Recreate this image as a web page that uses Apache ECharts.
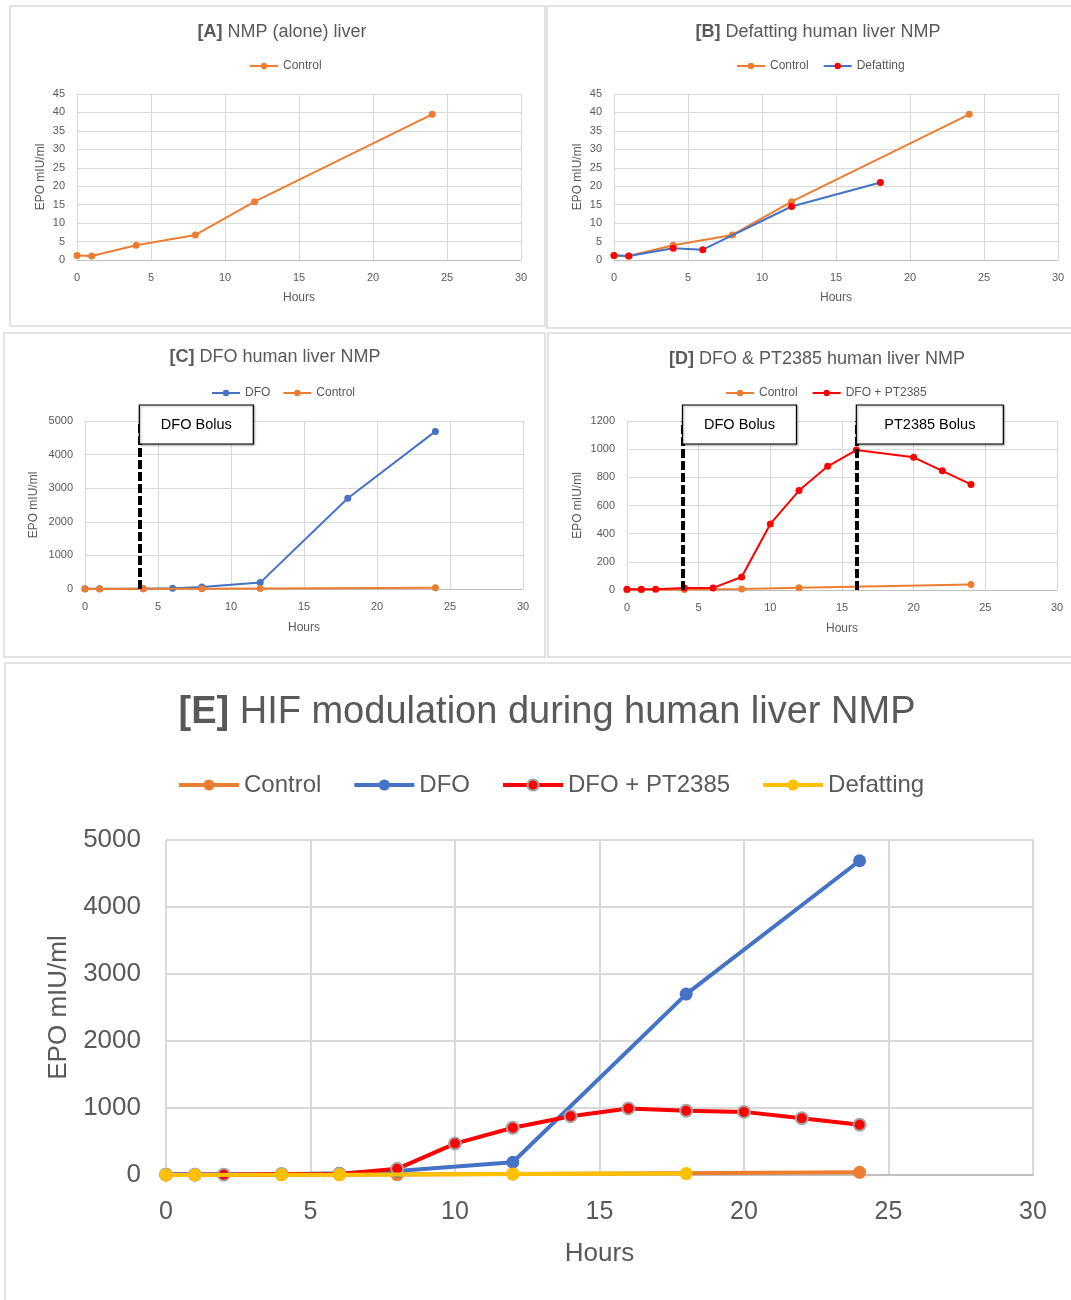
<!DOCTYPE html>
<html><head><meta charset="utf-8">
<script src="https://cdn.jsdelivr.net/npm/echarts@6/dist/echarts.min.js"></script>
<style>html,body{margin:0;padding:0;background:#fff}#c{width:1071px;height:1300px}</style>
</head><body><div id="c"></div>
<script>
// ---------------- data ----------------
const hoursControl = [0, 1, 4, 8, 12, 24];
const epoControl   = [1.2, 1.1, 4.0, 6.8, 15.8, 39.5];

const hoursDefatting = [0, 1, 4, 6, 12, 18];
const epoDefatting   = [1.2, 1.1, 3.2, 2.8, 14.5, 21.0];

const hoursDFO = [0, 1, 4, 6, 8, 12, 18, 24];
const epoDFO   = [10, 10, 10, 25, 60, 190, 2700, 4690];

const hoursDfoPtD = [0, 1, 2, 4, 6, 8, 10, 12, 14, 16, 20, 22, 24];
const epoDfoPtD   = [5, 5, 5, 15, 15, 92, 469, 706, 878, 994, 942, 846, 750];

const hoursDfoPtE = [0, 1, 2, 4, 6, 8, 10, 12, 14, 16, 18, 20, 22, 24];
const epoDfoPtE   = [5, 5, 5, 15, 15, 92, 469, 706, 878, 994, 960, 942, 846, 750];

const xTicks  = [0, 5, 10, 15, 20, 25, 30];
const yTicksAB = [0, 5, 10, 15, 20, 25, 30, 35, 40, 45];
const yTicksC  = [0, 1000, 2000, 3000, 4000, 5000];
const yTicksD  = [0, 200, 400, 600, 800, 1000, 1200];
const yTicksE  = [0, 1000, 2000, 3000, 4000, 5000];

const bolusC = [{label: 'DFO Bolus', hour: 3.72}];
const bolusD = [{label: 'DFO Bolus', hour: 3.87}, {label: 'PT2385 Bolus', hour: 16}];

// ---------------- style ----------------
const FF = "'Liberation Sans', Arial, sans-serif";
const TXT = '#595959';
const GRIDC = '#D9D9D9';
const ORANGE = '#ED7D31', BLUE = '#4472C4', RED = '#FF0000', YELLOW = '#FFC000';

function pairs(xs, ys) { return xs.map((x, i) => [x, ys[i]]); }

const grids = [
  {left: 77,  top: 94,  width: 444, height: 166},
  {left: 614, top: 94,  width: 444, height: 166},
  {left: 85,  top: 421, width: 438, height: 168},
  {left: 627, top: 421, width: 430, height: 169},
  {left: 166, top: 840, width: 867, height: 335}
];

function xAx(gi, fs, nfs, gap, margin) {
  return {
    type: 'value', gridIndex: gi, min: xTicks[0], max: xTicks[xTicks.length - 1],
    interval: xTicks[1] - xTicks[0],
    name: 'Hours', nameLocation: 'middle', nameGap: gap,
    nameTextStyle: {color: TXT, fontSize: nfs, fontFamily: FF},
    axisLine: {show: true, lineStyle: {color: '#BFBFBF', width: gi === 4 ? 2 : 1}},
    axisTick: {show: false},
    axisLabel: {color: TXT, fontSize: fs, fontFamily: FF, margin: margin, formatter: v => String(v)},
    splitLine: {show: true, lineStyle: {color: GRIDC, width: gi === 4 ? 2 : 1}}
  };
}
function yAx(gi, ticks, fs, nfs, gap, margin) {
  return {
    type: 'value', gridIndex: gi, min: ticks[0], max: ticks[ticks.length - 1],
    interval: ticks[1] - ticks[0],
    name: 'EPO mIU/ml', nameLocation: 'middle', nameGap: gap,
    nameTextStyle: {color: TXT, fontSize: nfs, fontFamily: FF},
    axisLine: {show: false}, axisTick: {show: false},
    axisLabel: {color: TXT, fontSize: fs, fontFamily: FF, margin: margin, formatter: v => String(v)},
    splitLine: {show: true, lineStyle: {color: GRIDC, width: gi === 4 ? 2 : 1}}
  };
}

function lineSeries(name, gi, xs, ys, color, mcolor, lw, ss, z, extra) {
  return Object.assign({
    type: 'line', name: name, xAxisIndex: gi, yAxisIndex: gi,
    data: pairs(xs, ys), symbol: 'circle', symbolSize: ss, z: z,
    lineStyle: {color: color, width: lw},
    itemStyle: {color: mcolor},
    emphasis: {disabled: true}, animation: false
  }, extra || {});
}

function bolusMarkLine(list) {
  return {
    silent: true, symbol: ['none', 'none'], label: {show: false},
    lineStyle: {color: '#000', type: [9, 3], width: 4},
    data: list.map(b => ({xAxis: b.hour})), animation: false
  };
}

function title(rb, rest, cx, top, fs) {
  return {
    text: '{b|' + rb + '} ' + rest, left: cx, top: top, textAlign: 'center',
    textStyle: {fontSize: fs, color: TXT, fontWeight: 'normal', fontFamily: FF,
      rich: {b: {fontSize: fs, color: TXT, fontWeight: 'bold', fontFamily: FF}}}
  };
}
function legend(names, left, top, fs, iw, ih, gap, lw) {
  return {
    data: names, left: left, top: top, itemWidth: iw, itemHeight: ih, itemGap: gap,
    lineStyle: {width: lw},
    textStyle: {color: TXT, fontSize: fs, fontFamily: FF},
    formatter: n => n.split('|')[1], selectedMode: false
  };
}

const series = [
  // A
  lineSeries('A|Control', 0, hoursControl, epoControl, ORANGE, ORANGE, 2, 7, 2),
  // B
  lineSeries('B|Control', 1, hoursControl, epoControl, ORANGE, ORANGE, 2, 7, 2),
  lineSeries('B|Defatting', 1, hoursDefatting, epoDefatting, BLUE, RED, 2, 7, 3),
  // C
  lineSeries('C|DFO', 2, hoursDFO, epoDFO, BLUE, BLUE, 2, 7, 2, {markLine: bolusMarkLine(bolusC)}),
  lineSeries('C|Control', 2, hoursControl, epoControl, ORANGE, ORANGE, 2, 7, 3),
  // D
  lineSeries('D|Control', 3, hoursControl, epoControl, ORANGE, ORANGE, 2, 7, 2),
  lineSeries('D|DFO + PT2385', 3, hoursDfoPtD, epoDfoPtD, RED, RED, 2, 7, 3, {markLine: bolusMarkLine(bolusD)}),
  // E
  lineSeries('E|Control', 4, hoursControl, epoControl, ORANGE, ORANGE, 4, 13, 2),
  lineSeries('E|DFO', 4, hoursDFO, epoDFO, BLUE, BLUE, 4, 13, 3),
  lineSeries('E|DFO + PT2385', 4, hoursDfoPtE, epoDfoPtE, RED, RED, 4, 12, 4,
    {itemStyle: {color: RED, borderColor: '#A5A5A5', borderWidth: 2}}),
  lineSeries('E|Defatting', 4, hoursDefatting, epoDefatting, YELLOW, YELLOW, 4, 13, 5)
];

const panels = [
  {x: 10, y: 6, w: 535, h: 320},
  {x: 547, y: 6, w: 530, h: 322},
  {x: 4, y: 333, w: 541, h: 324},
  {x: 548, y: 333, w: 530, h: 324},
  {x: 5, y: 663, w: 1075, h: 650}
];

const option = {
  backgroundColor: '#fff',
  animation: false,
  grid: grids,
  xAxis: [xAx(0, 11, 12, 32, 12), xAx(1, 11, 12, 32, 12), xAx(2, 11, 12, 33, 12), xAx(3, 11, 12, 33, 12), xAx(4, 25, 26, 66, 25)],
  yAxis: [yAx(0, yTicksAB, 11, 12, 30, 12), yAx(1, yTicksAB, 11, 12, 30, 12), yAx(2, yTicksC, 11, 12, 45, 12),
          yAx(3, yTicksD, 11, 12, 43, 12), yAx(4, yTicksE, 26, 26, 83, 25)],
  title: [
    title('[A]', 'NMP (alone) liver', 277, 18, 18),
    title('[B]', 'Defatting human liver NMP', 813, 18, 18),
    title('[C]', 'DFO human liver NMP', 270, 343, 18),
    title('[D]', 'DFO & PT2385 human liver NMP', 812, 345, 18),
    title('[E]', 'HIF modulation during human liver NMP', 542, 689, 38)
  ],
  legend: [
    legend(['A|Control'], 244, 55, 12, 28, 8, 14, 2),
    legend(['B|Control', 'B|Defatting'], 731, 55, 12, 28, 8, 14, 2),
    legend(['C|DFO', 'C|Control'], 206, 382, 12, 28, 8, 12, 2),
    legend(['D|Control', 'D|DFO + PT2385'], 720, 382, 12, 28, 8, 14, 2),
    legend(['E|Control', 'E|DFO', 'E|DFO + PT2385', 'E|Defatting'], 172, 768, 24, 60, 14, 31, 4)
  ],
  series: series,
  graphic: panels.map(p => ({type: 'rect', silent: true, z: -10,
    shape: {x: p.x, y: p.y, width: p.w, height: p.h},
    style: {fill: 'none', stroke: '#D9D9D9', lineWidth: 1.5}}))
};

const chart = echarts.init(document.getElementById('c'), null, {renderer: 'canvas'});
chart.setOption(option);

// Bolus annotation boxes anchored to the bolus hour on each axis
const boxW = {'DFO Bolus': 114, 'PT2385 Bolus': 147};
const boxes = [];
function addBoxes(list, gi) {
  list.forEach(b => {
    const px = chart.convertToPixel({xAxisIndex: gi, yAxisIndex: gi}, [b.hour, 0])[0];
    const top = grids[gi].top - 16;
    const w = boxW[b.label];
    boxes.push({type: 'rect', silent: true, z: 50,
      shape: {x: px, y: top, width: w, height: 39},
      style: {fill: '#fff', stroke: '#000', lineWidth: 1.2,
        shadowColor: 'rgba(0,0,0,0.35)', shadowBlur: 2, shadowOffsetX: 1, shadowOffsetY: 1}});
    boxes.push({type: 'text', silent: true, z: 51,
      style: {x: px + w / 2, y: top + 20, text: b.label, fill: '#000',
        font: "14.5px " + FF, textAlign: 'center', textVerticalAlign: 'middle'}});
  });
}
addBoxes(bolusC, 2);
addBoxes(bolusD, 3);
chart.setOption({graphic: option.graphic.concat(boxes)}, {replaceMerge: ['graphic']});
</script>
</body></html>
